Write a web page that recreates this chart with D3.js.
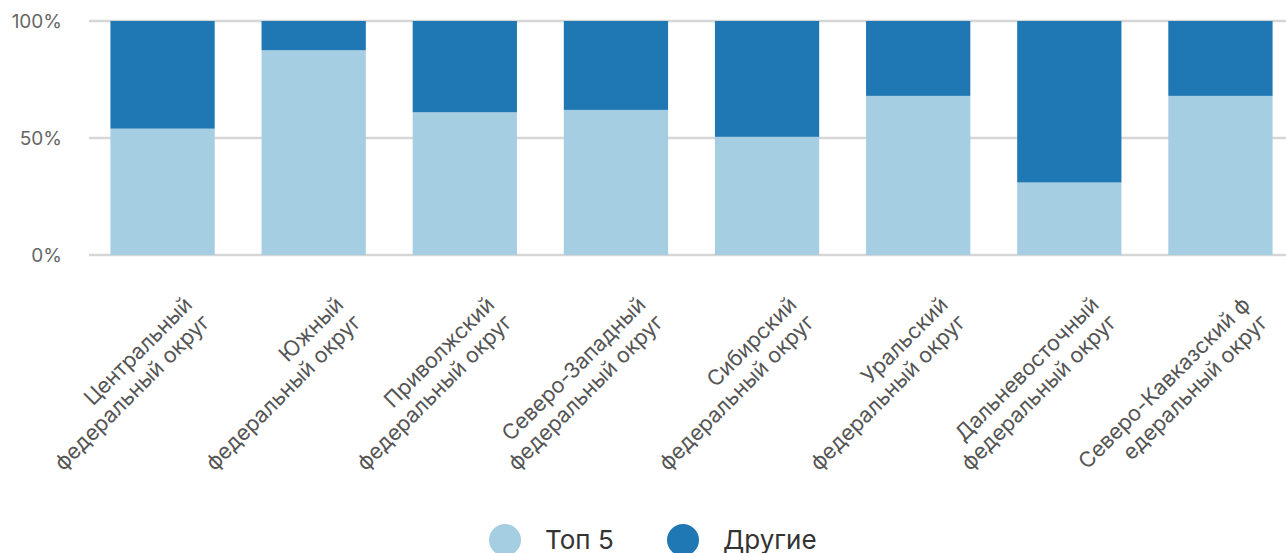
<!DOCTYPE html>
<html>
<head>
<meta charset="utf-8">
<script src="https://cdn.jsdelivr.net/npm/d3@7"></script>
<style>
  body { margin: 0; background: #fff; }
  text { font-family: Inter, "Noto Sans", sans-serif; }
</style>
</head>
<body>
<svg id="chart" width="1286" height="553"></svg>
<script>
// categories, split in two lines like the original labels
var regions = [
  ["Центральный", "федеральный округ"],
  ["Южный", "федеральный округ"],
  ["Приволжский", "федеральный округ"],
  ["Северо-Западный", "федеральный округ"],
  ["Сибирский", "федеральный округ"],
  ["Уральский", "федеральный округ"],
  ["Дальневосточный", "федеральный округ"],
  ["Северо-Кавказский ф", "едеральный округ"]
];
var top5 = [54, 87.5, 61, 62, 50.5, 68, 31, 68];
var others = [46, 12.5, 39, 38, 49.5, 32, 69, 32];
var seriesNames = ["Топ 5", "Другие"];
var colors = ["#a6cee3", "#1f78b4"];
var yTicks = [0, 50, 100];

var svg = d3.select("#chart");
var plotTop = 21, plotBottom = 255, plotLeft = 87, plotRight = 1296;

var rows = regions.map(function(r, i){
	return {name: r.join(" "), lines: r, "Топ 5": top5[i], "Другие": others[i]};
});

var x = d3.scaleBand().domain(rows.map(function(d){ return d.name; }))
	.range([plotLeft, plotRight]).paddingInner(0.31).paddingOuter(0.155);
var y = d3.scaleLinear().domain([0, 100]).range([plotBottom, plotTop]);

// grid
svg.append("g").selectAll("line").data(yTicks).enter().append("line")
	.attr("x1", 89).attr("x2", 1286)
	.attr("y1", function(d){ return y(d); }).attr("y2", function(d){ return y(d); })
	.attr("stroke", "#d6d6d6").attr("stroke-width", 2.5);

// y labels
svg.append("g").selectAll("text").data(yTicks).enter().append("text")
	.attr("x", 62).attr("y", function(d){ return y(d); })
	.attr("dy", "0.35em").attr("text-anchor", "end")
	.attr("font-size", 19).attr("fill", "#666")
	.text(function(d){ return d + "%"; });

// stacked bars
var stack = d3.stack().keys(seriesNames);
var layers = stack(rows);
svg.append("g").selectAll("g").data(layers).enter().append("g")
	.attr("fill", function(d, i){ return colors[i]; })
	.selectAll("rect").data(function(d){ return d; }).enter().append("rect")
	.attr("x", function(d){ return x(d.data.name); })
	.attr("width", x.bandwidth())
	.attr("y", function(d){ return y(d[1]); })
	.attr("height", function(d){ return y(d[0]) - y(d[1]); });

// category labels
var lab = svg.append("g").selectAll("g").data(rows).enter().append("g")
	.attr("transform", function(d){
		return "translate(" + (x(d.name) + x.bandwidth()/2 + 31) + ",306) rotate(-45)";
	});
lab.append("text")
	.attr("text-anchor", "end").attr("font-size", 21.5).attr("fill", "#555")
	.selectAll("tspan").data(function(d){ return d.lines; }).enter().append("tspan")
	.attr("x", 0).attr("dy", function(d, i){ return i === 0 ? 0 : 25; })
	.text(function(d){ return d; });

// legend
var legendX = [505, 683];
var leg = svg.append("g").selectAll("g").data(seriesNames).enter().append("g")
	.attr("transform", function(d, i){ return "translate(" + legendX[i] + ",540)"; });
leg.append("circle").attr("r", 16).attr("fill", function(d, i){ return colors[i]; });
leg.append("text").attr("x", 40).attr("y", 9)
	.attr("font-size", 26).attr("fill", "#333")
	.text(function(d){ return d; });
</script>
</body>
</html>
